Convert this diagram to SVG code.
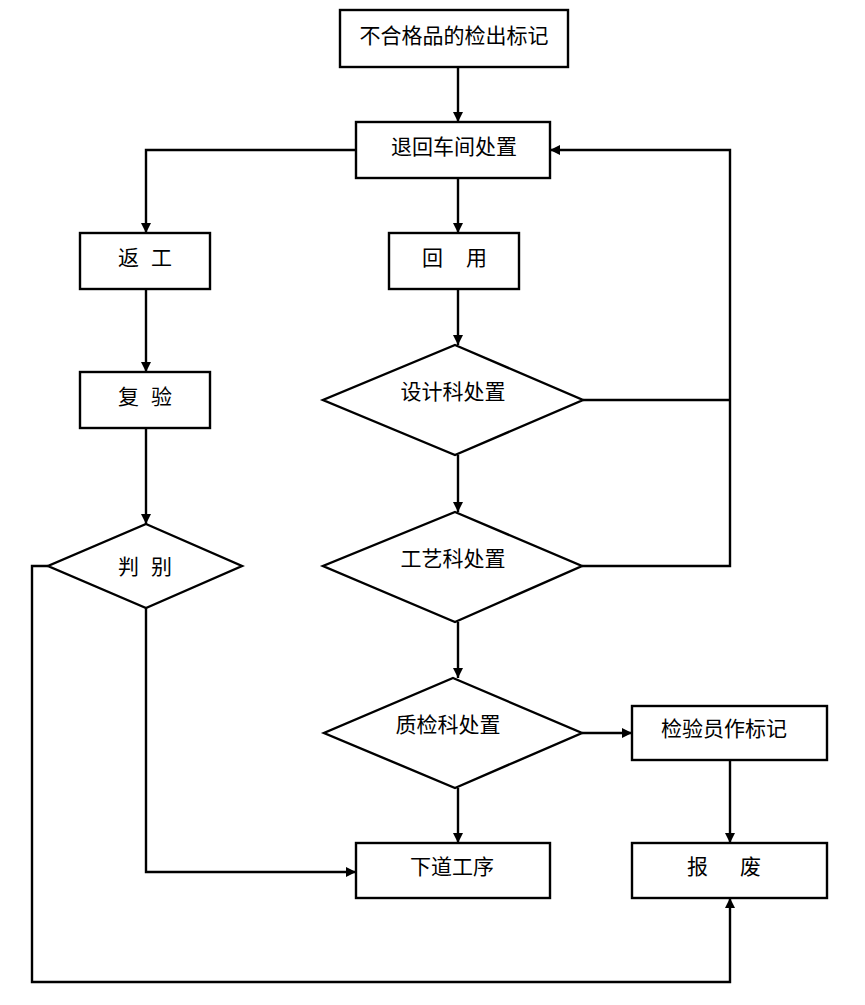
<svg xmlns="http://www.w3.org/2000/svg" width="865" height="1005" viewBox="0 0 865 1005">
<style>
.b{fill:#fff;stroke:#000;stroke-width:2.4}
.c{fill:none;stroke:#000;stroke-width:2.4}
text{font-family:"Noto Sans CJK SC","Noto Sans CJK JP",sans-serif;font-size:21px;fill:#000;text-anchor:middle;dominant-baseline:central}
text.s{text-anchor:start}
</style>
<defs>
<marker id="a" viewBox="0 0 10 10" refX="10" refY="5" markerWidth="11" markerHeight="10" markerUnits="userSpaceOnUse" orient="auto">
<path d="M0,0 L10,5 L0,10 Z" fill="#000"/>
</marker>
</defs>
<rect width="865" height="1005" fill="#fff"/>
<g id="connectors">
<path class="c" d="M458,67 V122" marker-end="url(#a)"/>
<path class="c" d="M356,150 H146 V233" marker-end="url(#a)"/>
<path class="c" d="M458,178 V233" marker-end="url(#a)"/>
<path class="c" d="M146,289 V372" marker-end="url(#a)"/>
<path class="c" d="M146,428 V524" marker-end="url(#a)"/>
<path class="c" d="M458,289 V345" marker-end="url(#a)"/>
<path class="c" d="M458,455 V512" marker-end="url(#a)"/>
<path class="c" d="M458,622 V678" marker-end="url(#a)"/>
<path class="c" d="M458,788 V843" marker-end="url(#a)"/>
<path class="c" d="M583,400 H730"/>
<path class="c" d="M582,566 H730 V150 H550" marker-end="url(#a)"/>
<path class="c" d="M582,733 H632" marker-end="url(#a)"/>
<path class="c" d="M730,760 V843" marker-end="url(#a)"/>
<path class="c" d="M146,608 V872 H356" marker-end="url(#a)"/>
<path class="c" d="M48,566 H32 V982 H730 V898" marker-end="url(#a)"/>
</g>
<g id="n1"><rect class="b" x="340" y="10" width="228" height="57"/><text x="454" y="34">不合格品的检出标记</text></g>
<g id="n2"><rect class="b" x="356" y="122" width="194" height="56"/><text x="454" y="145">退回车间处置</text></g>
<g id="n3"><rect class="b" x="80" y="233" width="130" height="56"/><text class="s" y="256"><tspan x="118">返 </tspan><tspan x="151">工</tspan></text></g>
<g id="n4"><rect class="b" x="389" y="233" width="130" height="56"/><text class="s" y="256"><tspan x="422">回    </tspan><tspan x="466">用</tspan></text></g>
<g id="n5"><rect class="b" x="80" y="372" width="130" height="56"/><text class="s" y="395"><tspan x="118">复 </tspan><tspan x="151">验</tspan></text></g>
<g id="n6"><polygon class="b" points="146,524 242,566 146,608 48,566"/><text class="s" y="565"><tspan x="118">判 </tspan><tspan x="151">别</tspan></text></g>
<g id="n7"><polygon class="b" points="455,345 583,400 455,455 323,400"/><text x="453" y="390">设计科处置</text></g>
<g id="n8"><polygon class="b" points="455,512 582,566 455,622 323,566"/><text x="453" y="557">工艺科处置</text></g>
<g id="n9"><polygon class="b" points="453,678 582,733 455,788 324,733"/><text x="448" y="723">质检科处置</text></g>
<g id="n10"><rect class="b" x="632" y="706" width="195" height="54"/><text x="724" y="727">检验员作标记</text></g>
<g id="n11"><rect class="b" x="356" y="843" width="194" height="55"/><text x="452" y="865">下道工序</text></g>
<g id="n12"><rect class="b" x="632" y="843" width="195" height="55"/><text class="s" y="865"><tspan x="687">报    </tspan><tspan x="740">废</tspan></text></g>
</svg>
